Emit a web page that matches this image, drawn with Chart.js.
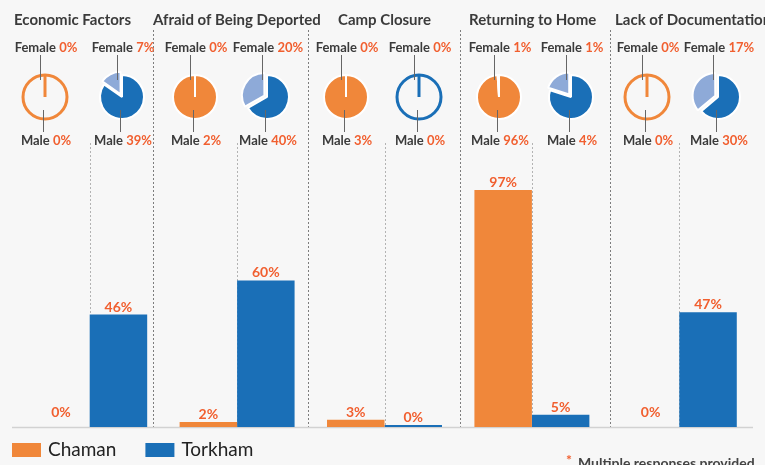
<!DOCTYPE html>
<html>
<head>
<meta charset="utf-8">
<script src="https://cdn.jsdelivr.net/npm/chart.js@4.4.1/dist/chart.umd.min.js"></script>
<style>
  html, body { margin: 0; padding: 0; background: #f7f7f7; }
  #wrap { position: relative; width: 765px; height: 465px; overflow: hidden; }
  #wrap canvas { position: absolute; }
</style>
</head>
<body>
<div id="wrap">
  <canvas id="barChart" width="765" height="465" style="left:0;top:0"></canvas>
</div>
<script>
// ---- data ----
const categories = ['Economic Factors', 'Afraid of Being Deported', 'Camp Closure', 'Returning to Home', 'Lack of Documentation'];
const sites = ['Chaman', 'Torkham'];
const chamanTotal = [0, 2, 3, 97, 0];
const torkhamTotal = [46, 60, 0, 5, 47];
const chamanFemale = [0, 0, 0, 1, 0];
const chamanMale = [0, 2, 3, 96, 0];
const torkhamFemale = [7, 20, 0, 1, 17];
const torkhamMale = [39, 40, 0, 4, 30];
const footnote = 'Multiple responses provided';

// ---- look ----
const ORANGE = '#f0873a';
const LIGHT_ORANGE = '#f7b888';
const BLUE = '#1a6fb7';
const LIGHT_BLUE = '#8eaad8';
const RED = '#f15f2f';
const DARK = '#3b3b3b';
const FONT = 'Lato, "Noto Sans", sans-serif';

// page positions of the decorations
const titleX = [14, 153, 338, 469, 615];
const separatorX = [153, 308, 460, 610];
const chamanPieX = [45, 195, 346, 499, 647];
const torkhamPieX = [122, 267, 419, 571, 718];
const pieY = 97;

function vline(ctx, x, y0, y1) {
  ctx.beginPath();
  ctx.moveTo(x, y0);
  ctx.lineTo(x, y1);
  ctx.stroke();
}

// dotted guides, baseline, value labels, titles, legend, footnote
const barDecor = {
  id: 'barDecor',
  beforeDatasetsDraw(chart) {
    const { ctx, chartArea, scales } = chart;
    const bottom = chartArea.bottom;
    ctx.save();
    ctx.lineWidth = 1;
    ctx.setLineDash([2, 2]);
    ctx.strokeStyle = '#7d7d7d';
    separatorX.forEach(x => vline(ctx, x + 0.5, 30, bottom));
    ctx.strokeStyle = '#b3b3b3';
    categories.forEach((c, i) => {
      const x = Math.round(scales.x.getPixelForValue(i)) + 0.5;
      vline(ctx, x, 143, bottom);
    });
    ctx.setLineDash([]);
    ctx.strokeStyle = '#d2d2d2';
    ctx.lineWidth = 1.5;
    ctx.beginPath();
    ctx.moveTo(12, bottom + 0.5);
    ctx.lineTo(753, bottom + 0.5);
    ctx.stroke();
    ctx.restore();
  },
  afterDatasetsDraw(chart) {
    const { ctx } = chart;
    ctx.save();

    // value labels (a bit higher when there is no visible bar)
    ctx.font = 'bold 14px ' + FONT;
    ctx.fillStyle = RED;
    ctx.textAlign = 'center';
    ctx.textBaseline = 'alphabetic';
    chart.data.datasets.forEach((ds, di) => {
      chart.getDatasetMeta(di).data.forEach((bar, i) => {
        const gap = Math.abs(bar.base - bar.y) < 1 ? 10 : 3;
        ctx.fillText(ds.data[i] + '%', bar.x, bar.y - gap);
      });
    });

    // category titles
    ctx.font = 'bold 15px ' + FONT;
    ctx.fillStyle = DARK;
    ctx.textAlign = 'left';
    categories.forEach((c, i) => ctx.fillText(c, titleX[i], 25));

    // legend
    ctx.font = '19px ' + FONT;
    ctx.textBaseline = 'middle';
    let lx = 12;
    chart.data.datasets.forEach(ds => {
      ctx.fillStyle = ds.backgroundColor;
      ctx.fillRect(lx, 443, 29, 14);
      ctx.fillStyle = '#222';
      ctx.fillText(ds.label, lx + 36, 450);
      lx += 36 + ctx.measureText(ds.label).width + 29;
    });

    // footnote
    ctx.textBaseline = 'alphabetic';
    ctx.font = 'bold 14px ' + FONT;
    ctx.fillStyle = RED;
    ctx.fillText('*', 566, 465);
    ctx.fillStyle = '#444';
    ctx.fillText(footnote, 578, 468);
    ctx.restore();
  },
};

new Chart(document.getElementById('barChart'), {
  type: 'bar',
  data: {
    labels: categories,
    datasets: [
      { label: sites[0], data: chamanTotal, backgroundColor: ORANGE },
      { label: sites[1], data: torkhamTotal, backgroundColor: BLUE, minBarLength: 2 },
    ],
  },
  options: {
    responsive: false,
    animation: false,
    events: [],
    layout: { padding: { left: 16, right: 12, top: 36, bottom: 38 } },
    datasets: { bar: { barPercentage: 1, categoryPercentage: 0.78 } },
    scales: {
      x: { display: false },
      y: { display: false, min: 0, max: 160 },
    },
    plugins: { legend: { display: false }, tooltip: { enabled: false } },
  },
  plugins: [barDecor],
});

// ---- small gender pies ----
const pieDecor = {
  id: 'pieDecor',
  afterDraw(chart, args, opts) {
    const { ctx, chartArea } = chart;
    const cx = (chartArea.left + chartArea.right) / 2;
    const cy = (chartArea.top + chartArea.bottom) / 2;
    const [male, female] = chart.data.datasets[0].data;
    ctx.save();
    if (male + female === 0) {
      // empty pie: outline with a stub at 12 o'clock
      ctx.strokeStyle = opts.color;
      ctx.lineWidth = 3;
      ctx.beginPath();
      ctx.arc(cx, cy, 22, 0, Math.PI * 2);
      ctx.stroke();
      vline(ctx, cx, cy, cy - 22);
    }
    // leader lines
    ctx.strokeStyle = '#666';
    ctx.lineWidth = 1;
    vline(ctx, Math.round(cx - 5) + 0.5, cy - 42, cy - 17);
    vline(ctx, Math.round(cx - 2) + 0.5, cy + 13, cy + 35);

    // labels
    ctx.font = 'bold 13px ' + FONT;
    ctx.textBaseline = 'alphabetic';
    ctx.textAlign = 'left';
    const label = (name, val, y) => {
      const a = name + ' ';
      const b = val + '%';
      const w = ctx.measureText(a).width + ctx.measureText(b).width;
      const x = cx - w / 2 + 1;
      ctx.fillStyle = DARK;
      ctx.fillText(a, x, y);
      ctx.fillStyle = RED;
      ctx.fillText(b, x + ctx.measureText(a).width, y);
    };
    label('Female', female, cy - 45);
    label('Male', male, cy + 48);
    ctx.restore();
  },
};

function addPie(cx, male, female, color, femaleColor, explode) {
  const canvas = document.createElement('canvas');
  canvas.width = 90;
  canvas.height = 134;
  canvas.style.left = (cx - 45) + 'px';
  canvas.style.top = (pieY - 67) + 'px';
  document.getElementById('wrap').appendChild(canvas);
  new Chart(canvas, {
    type: 'pie',
    data: {
      labels: ['Male', 'Female'],
      datasets: [{
        data: [male, female],
        backgroundColor: [color, femaleColor],
        borderColor: '#ffffff',
        borderWidth: 2,
        offset: [0, explode],
      }],
    },
    options: {
      responsive: false,
      animation: false,
      events: [],
      radius: 22,
      plugins: {
        legend: { display: false },
        tooltip: { enabled: false },
        pieDecor: { color: color },
      },
    },
    plugins: [pieDecor],
  });
}

categories.forEach((c, i) => {
  addPie(chamanPieX[i], chamanMale[i], chamanFemale[i], ORANGE, LIGHT_ORANGE, 0);
  addPie(torkhamPieX[i], torkhamMale[i], torkhamFemale[i], BLUE, LIGHT_BLUE, 12);
});
</script>
</body>
</html>
